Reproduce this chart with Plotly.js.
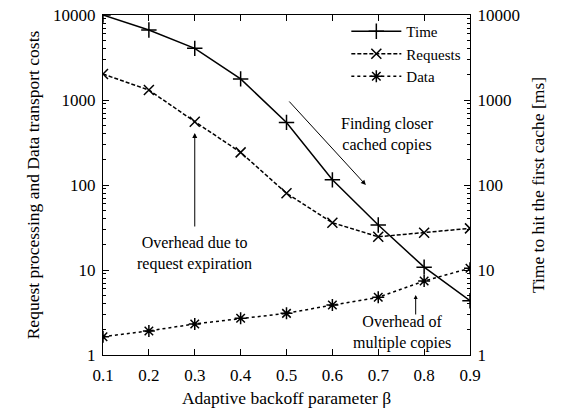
<!DOCTYPE html>
<html><head><meta charset="utf-8">
<script src="https://cdn.plot.ly/plotly-3.0.1.min.js"></script>
<style>html,body{margin:0;padding:0;background:#fff}#chart{width:570px;height:413px}</style>
</head><body><div id="chart"></div>
<script>
const beta = [0.1, 0.2, 0.3, 0.4, 0.5, 0.6, 0.7, 0.8, 0.9];
const timeMs = [10000, 6670, 4050, 1770, 545, 115, 33.8, 10.8, 4.35];
const requests = [2020, 1310, 556, 242, 80, 36, 24.6, 27.5, 30.9];
const dataCost = [1.64, 1.92, 2.32, 2.70, 3.09, 3.87, 4.77, 7.42, 10.5];
const xTicks = [0.1, 0.2, 0.3, 0.4, 0.5, 0.6, 0.7, 0.8, 0.9];
const yTicks = [1, 10, 100, 1000, 10000];
const minorTicks = [];
for (const d of [1, 10, 100, 1000]) for (let k = 2; k <= 9; k++) minorTicks.push(k * d);

const font = {family: 'Liberation Serif', size: 17, color: '#000'};
const titleFont = {family: 'Liberation Serif', size: 17.5, color: '#000'};

const traces = [
  {x: beta, y: timeMs, name: 'Time', yaxis: 'y2', mode: 'lines+markers',
   line: {color: '#000', width: 1.5, dash: 'solid'},
   marker: {symbol: 'cross-thin-open', size: 11, line: {color: '#000', width: 1.5}}},
  {x: beta, y: requests, name: 'Requests', mode: 'lines+markers',
   line: {color: '#000', width: 1.5, dash: '4px,2px'},
   marker: {symbol: 'x-thin-open', size: 10, line: {color: '#000', width: 1.5}}},
  {x: beta, y: dataCost, name: 'Data', mode: 'lines+markers',
   line: {color: '#000', width: 1.5, dash: 'dot'},
   marker: {symbol: 'asterisk-open', size: 10, line: {color: '#000', width: 1.5}}}
];

const yCommon = {
  type: 'log', range: [0, 4], tickvals: yTicks, ticktext: yTicks.map(String),
  ticks: 'inside', ticklen: 6, tickcolor: '#000', showgrid: false, zeroline: false,
  showline: true, linecolor: '#000', linewidth: 1, ticklabelstandoff: 3,
  minor: {tickvals: minorTicks, ticks: 'inside', ticklen: 3, tickcolor: '#000', tickwidth: 1, showgrid: false},
  tickfont: font
};

const annFont = {family: font.family, size: 16, color: '#000'};
const layout = {
  width: 570, height: 413,
  margin: {l: 103, r: 100, t: 15, b: 58},
  paper_bgcolor: '#fff', plot_bgcolor: '#fff',
  font: font,
  showlegend: true,
  legend: {x: 0.99, xanchor: 'right', y: 1.0, yanchor: 'top', bgcolor: 'rgba(0,0,0,0)',
           font: {family: font.family, size: 15, color: '#000'}, tracegroupgap: 0, itemwidth: 50},
  xaxis: {range: [0.1, 0.9], tickvals: xTicks, ticktext: xTicks.map(v => v.toFixed(1)),
          ticks: 'inside', ticklen: 6, tickcolor: '#000', showgrid: false, zeroline: false,
          showline: true, mirror: 'ticks', linecolor: '#000', linewidth: 1, tickfont: font,
          ticklabelstandoff: 5,
          title: {text: 'Adaptive backoff parameter β', font: titleFont, standoff: 7}},
  yaxis: Object.assign({}, yCommon, {
          title: {text: 'Request processing and Data transport costs', font: titleFont, standoff: 8}}),
  yaxis2: Object.assign({}, yCommon, {overlaying: 'y', side: 'right',
          title: {text: 'Time to hit the first cache [ms]', font: titleFont, standoff: 12}}),
  annotations: [
    {x: 0.3, y: 2.612, ax: 0.3, ay: 1.494, xref: 'x', yref: 'y', axref: 'x', ayref: 'y',
     showarrow: true, arrowhead: 2, arrowsize: 1, arrowwidth: 1, arrowcolor: '#000', text: ''},
    {x: 0.3, y: 1.2, xref: 'x', yref: 'y', showarrow: false, font: annFont,
     text: 'Overhead due to<br>request expiration'},
    {x: 0.673, y: 2.0, ax: 0.503, ay: 3.0, xref: 'x', yref: 'y', axref: 'x', ayref: 'y',
     showarrow: true, arrowhead: 2, arrowsize: 1, arrowwidth: 1, arrowcolor: '#000', text: ''},
    {x: 0.721, y: 2.6, xref: 'x', yref: 'y', showarrow: false, font: annFont,
     text: 'Finding closer<br>cached copies'},
    {x: 0.7816, y: 0.706, ax: 0.7816, ay: 0.459, xref: 'x', yref: 'y', axref: 'x', ayref: 'y',
     showarrow: true, arrowhead: 2, arrowsize: 0.8, arrowwidth: 1, arrowcolor: '#000', text: ''},
    {x: 0.752, y: 0.27, xref: 'x', yref: 'y', showarrow: false, font: annFont,
     text: 'Overhead of<br>multiple copies'}
  ]
};

Plotly.newPlot('chart', traces, layout, {displayModeBar: false, staticPlot: true});
</script>
</body></html>
